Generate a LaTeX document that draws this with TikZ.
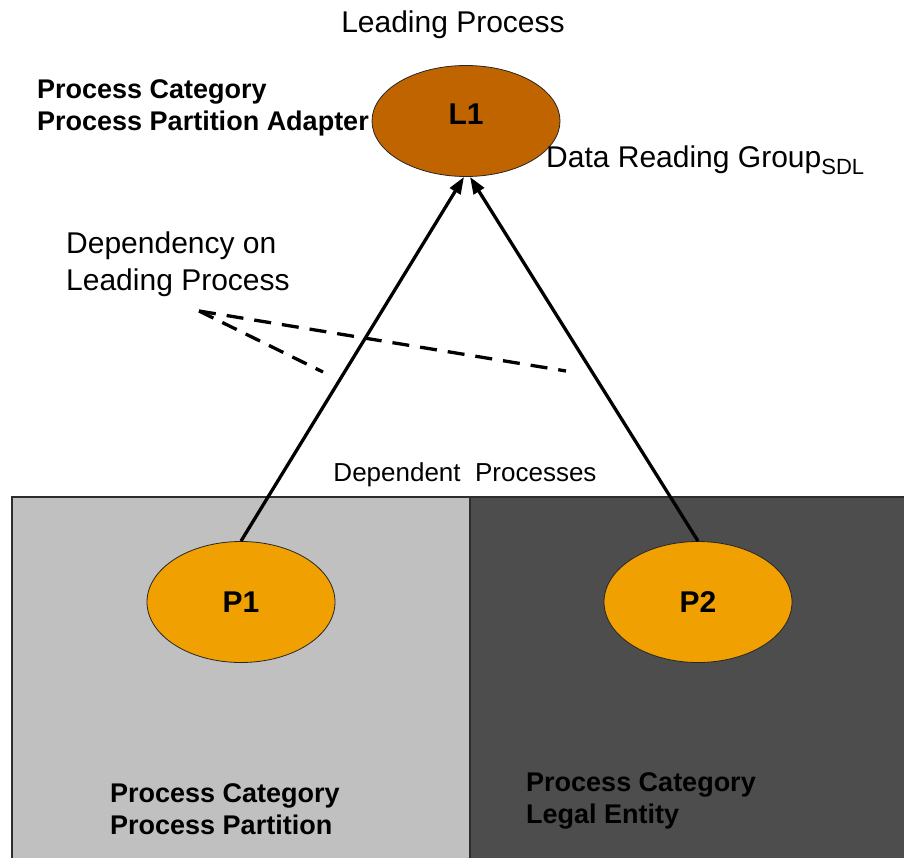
\documentclass[tikz,border=0pt]{standalone}
\usepackage{fontspec}
\setmainfont{Liberation Sans}
\usetikzlibrary{shapes.geometric,arrows.meta}
\definecolor{leadfill}{RGB}{192,100,0}
\definecolor{depfill}{RGB}{240,160,0}
\definecolor{lightbox}{RGB}{192,192,192}
\definecolor{darkbox}{RGB}{77,77,77}
\definecolor{boxline}{RGB}{45,45,45}
\begin{document}
\begin{tikzpicture}[x=1pt,y=-1pt,
  reg/.style={font=\fontsize{30}{36}\selectfont, inner sep=0pt},
  regsmall/.style={font=\fontsize{26}{31}\selectfont, inner sep=0pt},
  bld/.style={font=\fontsize{27}{32}\selectfont\bfseries, inner sep=0pt},
  lbl/.style={font=\fontsize{30}{36}\selectfont\bfseries, inner sep=0pt},
  leadell/.style={ellipse, draw=black!85, line width=0.8pt, fill=leadfill, minimum width=188pt, minimum height=111pt, inner sep=0pt},
  procell/.style={ellipse, draw=black!85, line width=0.8pt, fill=depfill, minimum width=188pt, minimum height=121pt, inner sep=0pt},
  region/.style={draw=boxline, line width=1.2pt},
  arr/.style={line width=3.3pt, -{Triangle[length=17pt,width=12pt]}},
  dsh/.style={line width=3.3pt, dash pattern=on 17pt off 11pt}
]
\useasboundingbox (0,0) rectangle (904,857);
\fill[white] (0,0) rectangle (904,857);

% regions
\draw[region, fill=lightbox] (12,497) rectangle (470,875);
\draw[region, fill=darkbox] (470,497) rectangle (920,875);

% top-left texts (drawn before L1 so the ellipse overlaps)
\node[bld, anchor=base west] (tl1) at (37,98) {Process Category};
\node[bld, anchor=base west] (tl2) at (37,130) {Process Partition Adapter};

% ellipses
\node[leadell] (L1) at (466,121) {};
\node[lbl] (L1t) at ([yshift=7pt]L1.center) {L1};
\node[procell] (P1) at (241,602) {};
\node[lbl] (P1t) at (P1.center) {P1};
\node[procell] (P2) at (698,602) {};
\node[lbl] (P2t) at (P2.center) {P2};

% texts
\node[reg, anchor=base] (title) at (453,32) {Leading Process};
\node[reg, anchor=base west] (drg) at (546,167) {Data Reading Group\raisebox{-7pt}{\fontsize{22}{22}\selectfont SDL}};
\node[reg, anchor=base west] (dep1) at (66,253) {Dependency on};
\node[reg, anchor=base west] (dep2) at (66,290) {Leading Process};
\node[regsmall, anchor=base] (dproc) at (465,481) {Dependent\ \ Processes};
\node[bld, anchor=base west] (bl1) at (110,802) {Process Category};
\node[bld, anchor=base west] (bl2) at (110,834) {Process Partition};
\node[bld, anchor=base west] (br1) at (526,791) {Process Category};
\node[bld, anchor=base west] (br2) at (526,823) {Legal Entity};

% arrows
\draw[arr] (P1.north) -- ([xshift=-2pt]L1.south);
\draw[arr] (P2.north) -- ([xshift=4pt]L1.south);

% dashed pointers
\coordinate (ds) at (199,311);
\coordinate (de1) at (323,372);
\coordinate (de2) at (566,371);
\draw[dsh, dash pattern=on 16pt off 10pt] (ds) -- (de1);
\draw[dsh] (ds) -- (de2);
\end{tikzpicture}
\end{document}
